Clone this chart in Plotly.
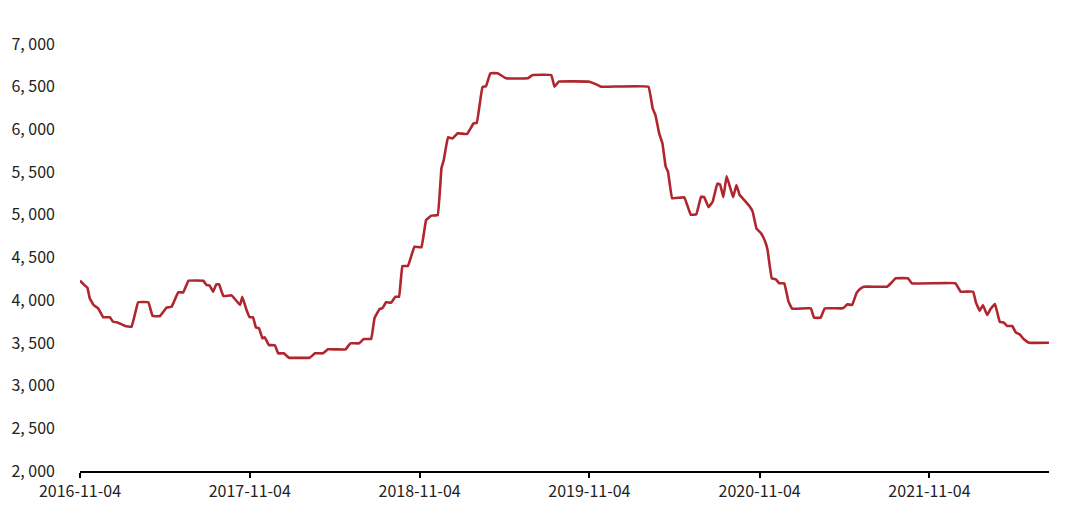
import pandas as pd
import plotly.graph_objects as go

start_date = "2016-11-04"
days_from_start = [0, 11, 16, 21, 29, 39, 50, 64, 71, 82, 97, 111, 125, 147, 156, 172, 186, 197, 211, 222,
                   233, 265, 272, 279, 286, 293, 299, 308, 326, 344, 349, 358, 365, 372, 378, 385, 392, 397,
                   406, 419, 426, 438, 449, 494, 505, 522, 533, 571, 581, 600, 610, 626, 633, 644, 650, 658,
                   669, 678, 686, 693, 705, 719, 734, 744, 755, 769, 777, 782, 791, 801, 812, 832, 846, 853,
                   865, 873, 882, 898, 916, 963, 973, 1013, 1020, 1029, 1095, 1106, 1120, 1222, 1231, 1237,
                   1245, 1252, 1259, 1264, 1273, 1299, 1313, 1325, 1335, 1342, 1351, 1360, 1370, 1376, 1383,
                   1390, 1397, 1404, 1411, 1418, 1428, 1440, 1446, 1454, 1464, 1473, 1478, 1487, 1496, 1503,
                   1514, 1523, 1531, 1571, 1578, 1592, 1601, 1640, 1650, 1660, 1669, 1676, 1685, 1735, 1743,
                   1753, 1780, 1788, 1882, 1893, 1920, 1926, 1934, 1941, 1950, 1957, 1967, 1977, 1986, 1993,
                   2004, 2012, 2020, 2029, 2040, 2083]
prices = [4230, 4170, 4146, 4022, 3944, 3905, 3800, 3800, 3748, 3737, 3698, 3690, 3976, 3976, 3815, 3815,
          3913, 3924, 4092, 4092, 4228, 4228, 4178, 4170, 4100, 4186, 4186, 4049, 4057, 3944, 4041, 3885,
          3800, 3800, 3683, 3671, 3554, 3566, 3475, 3472, 3378, 3378, 3327, 3327, 3378, 3378, 3425, 3425,
          3495, 3495, 3546, 3546, 3788, 3897, 3905, 3976, 3971, 4041, 4041, 4400, 4400, 4627, 4620, 4939,
          4990, 4998, 5545, 5642, 5907, 5895, 5954, 5946, 6071, 6078, 6493, 6508, 6657, 6657, 6598, 6598,
          6637, 6637, 6500, 6559, 6559, 6536, 6500, 6500, 6246, 6168, 5954, 5837, 5564, 5505, 5193, 5205,
          5000, 5006, 5212, 5205, 5090, 5153, 5365, 5355, 5205, 5455, 5330, 5205, 5349, 5232, 5173, 5095,
          5037, 4842, 4783, 4685, 4588, 4256, 4245, 4198, 4198, 3983, 3900, 3905, 3795, 3795, 3905, 3905,
          3952, 3944, 4081, 4128, 4158, 4158, 4198, 4256, 4256, 4198, 4198, 4100, 4100, 3971, 3877, 3944,
          3827, 3893, 3955, 3748, 3737, 3698, 3698, 3620, 3600, 3542, 3502, 3502]
x_tick_labels = ["2016-11-04", "2017-11-04", "2018-11-04", "2019-11-04", "2020-11-04", "2021-11-04"]
y_tick_values = [2000, 2500, 3000, 3500, 4000, 4500, 5000, 5500, 6000, 6500, 7000]
y_tick_labels = ["2,\u00a0000", "2,\u00a0500", "3,\u00a0000", "3,\u00a0500", "4,\u00a0000", "4,\u00a0500",
                 "5,\u00a0000", "5,\u00a0500", "6,\u00a0000", "6,\u00a0500", "7,\u00a0000"]

dates = pd.Timestamp(start_date) + pd.to_timedelta(days_from_start, unit="D")

fig = go.Figure()
fig.add_trace(go.Scatter(x=dates, y=prices, mode="lines",
                         line=dict(color="#B0262E", width=2.6, shape="spline", smoothing=0.2),
                         showlegend=False))

font_family = "Noto Sans CJK SC"
# the page body has an 8px default margin, so the margins are compensated
fig.update_layout(
    width=1080, height=524,
    margin=dict(l=72, r=39, t=36, b=61),
    paper_bgcolor="white", plot_bgcolor="white",
    font=dict(family=font_family, size=16, color="#222222"),
)
fig.update_xaxes(
    range=[dates[0], dates[-1]], automargin=False,
    tickvals=pd.to_datetime(x_tick_labels), ticktext=x_tick_labels,
    showgrid=False, zeroline=False,
    showline=True, linecolor="black", linewidth=1.5,
    ticks="outside", ticklen=5, tickwidth=1.5, tickcolor="black",
    tickfont=dict(size=16, color="#222222"),
)
fig.update_yaxes(
    range=[2000, 7000], automargin=False,
    tickvals=y_tick_values, ticktext=y_tick_labels,
    showgrid=False, zeroline=False, showline=False,
    ticks="", ticklabelstandoff=24,
    tickfont=dict(size=16, color="#222222"),
)
fig.write_html("out.html")
